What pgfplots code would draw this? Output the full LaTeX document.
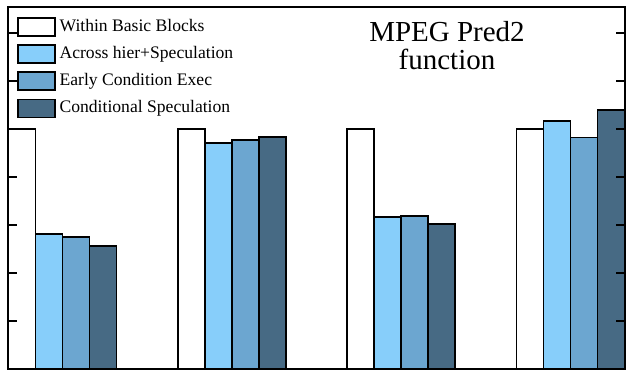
\documentclass[border=0pt]{standalone}
\usepackage{pgfplots}
\pgfplotsset{compat=1.18}
\usepackage{fontspec}
\setmainfont{Liberation Serif}
\definecolor{cA}{HTML}{87CEFA}
\definecolor{cB}{HTML}{6CA6D0}
\definecolor{cC}{HTML}{476A84}
\begin{document}
\begin{tikzpicture}
\useasboundingbox (-4pt,-2.5pt) rectangle (314pt,184.5pt);
\begin{axis}[
  scale only axis, width=308.5pt, height=181pt,
  xmin=-0.322, xmax=3.322, ymin=0, ymax=1.508,
  xtick=\empty, ytick={0,0.2,...,1.4}, yticklabels={},
  tick align=inside, major tick length=4.5pt, axis on top,
  axis line style={line width=1pt}, tick style={line width=1pt, black},
  ybar=0pt, bar width=13.5pt,
  every axis plot/.append style={draw=black, line width=0.9pt},
  legend style={at={(0,1)}, anchor=north west, draw=none, fill=none,
    xshift=1.2pt, yshift=-1.5pt,
    font=\fontsize{8.8}{10}\selectfont, row sep=1.1pt,
    nodes={text height=6.5pt, text depth=2pt, inner sep=2pt}},
  legend cell align=left,
  legend image code/.code={\draw[#1] (0pt,-4.5pt) rectangle (18.5pt,4.5pt);},
]
\addplot[fill=white] coordinates {(0,1.0) (1,1.0) (2,1.0) (3,1.0)};
\addplot[fill=cA] coordinates {(0,0.5625) (1,0.943) (2,0.632) (3,1.033)};
\addplot[fill=cB] coordinates {(0,0.551) (1,0.953) (2,0.639) (3,0.964)};
\addplot[fill=cC] coordinates {(0,0.5125) (1,0.965) (2,0.603) (3,1.079)};
\legend{Within Basic Blocks, Across hier+Speculation, Early Condition Exec, Conditional Speculation}
\node[align=center, font=\fontsize{14.5}{14}\selectfont] at (rel axis cs:0.7115,0.893) {MPEG Pred2\\function};
\end{axis}
\end{tikzpicture}
\end{document}
